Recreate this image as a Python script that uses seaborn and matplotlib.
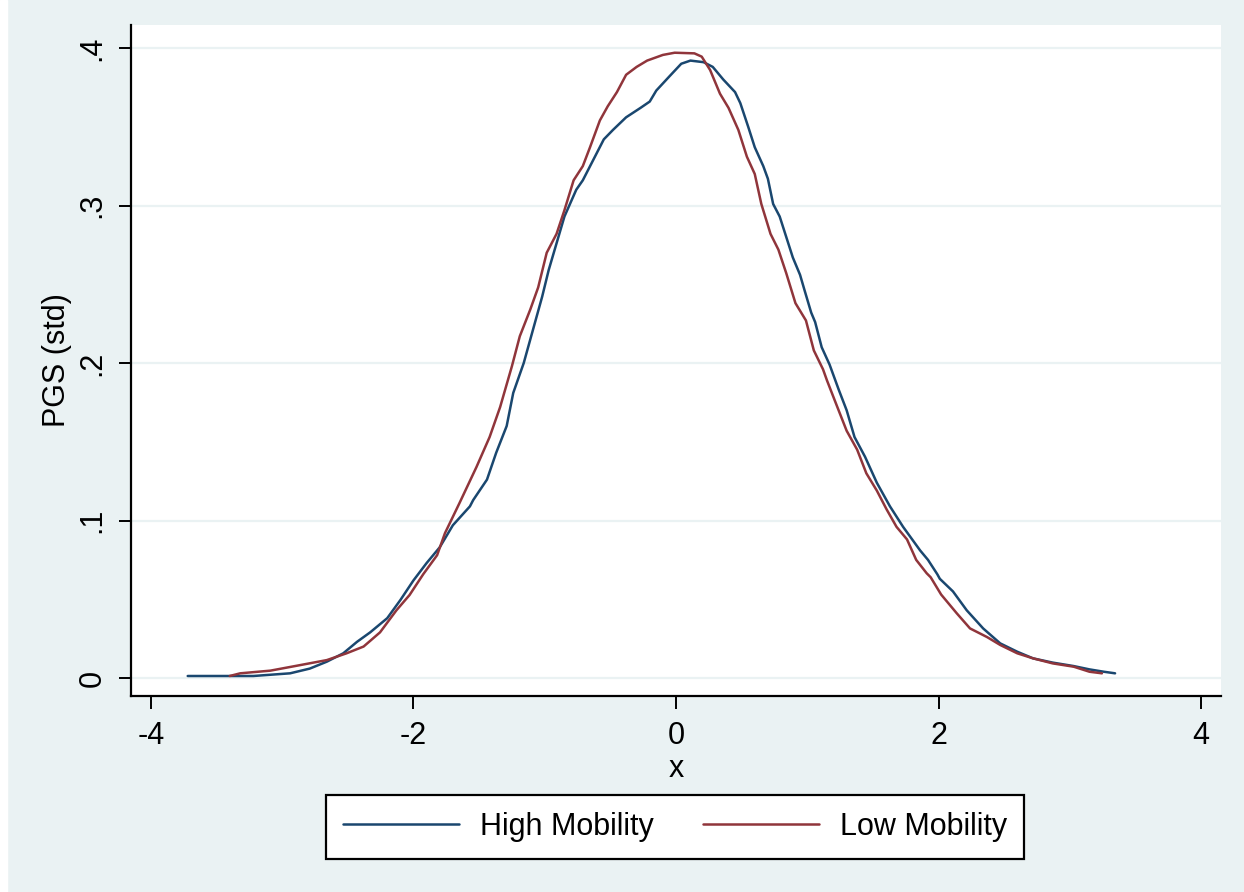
import numpy as np
import pandas as pd
import seaborn as sns
import matplotlib.pyplot as plt
from matplotlib.patches import Rectangle

# density curves
high_x = [-3.72, -3.22, -2.94, -2.79, -2.66, -2.535, -2.43, -2.33, -2.20, -2.10,
          -2.00, -1.90, -1.80, -1.70, -1.57, -1.545, -1.44, -1.37, -1.29, -1.24,
          -1.16, -1.09, -1.02, -0.97, -0.91, -0.85, -0.76, -0.71, -0.63, -0.55,
          -0.48, -0.38, -0.27, -0.20, -0.15, -0.05, 0.04, 0.11, 0.21, 0.28,
          0.36, 0.45, 0.49, 0.55, 0.60, 0.665, 0.70, 0.74, 0.79, 0.84,
          0.89, 0.945, 0.98, 1.03, 1.06, 1.11, 1.17, 1.24, 1.30, 1.36,
          1.44, 1.53, 1.63, 1.73, 1.86, 1.92, 1.99, 2.01, 2.11, 2.215,
          2.34, 2.47, 2.60, 2.72, 2.87, 3.03, 3.15, 3.26, 3.345]
high_y = [0.0013, 0.0013, 0.003, 0.006, 0.0104, 0.0157, 0.023, 0.029, 0.038, 0.0495,
          0.062, 0.073, 0.083, 0.097, 0.109, 0.113, 0.126, 0.143, 0.160, 0.181,
          0.200, 0.221, 0.242, 0.259, 0.276, 0.293, 0.310, 0.316, 0.329, 0.342,
          0.348, 0.356, 0.362, 0.366, 0.373, 0.382, 0.390, 0.392, 0.391, 0.388,
          0.380, 0.372, 0.365, 0.350, 0.337, 0.325, 0.317, 0.301, 0.293, 0.280,
          0.267, 0.256, 0.246, 0.232, 0.226, 0.210, 0.199, 0.183, 0.170, 0.153,
          0.1405, 0.124, 0.109, 0.096, 0.081, 0.075, 0.066, 0.063, 0.055, 0.043,
          0.0315, 0.022, 0.0167, 0.0125, 0.0098, 0.0076, 0.0055, 0.004, 0.003]

low_x = [-3.40, -3.32, -3.09, -2.89, -2.66, -2.51, -2.38, -2.255, -2.13, -2.03,
         -1.925, -1.82, -1.76, -1.65, -1.52, -1.42, -1.34, -1.25, -1.19, -1.11,
         -1.05, -0.985, -0.91, -0.85, -0.78, -0.71, -0.655, -0.58, -0.52, -0.45,
         -0.38, -0.30, -0.22, -0.10, -0.01, 0.14, 0.196, 0.26, 0.335, 0.40,
         0.475, 0.54, 0.60, 0.65, 0.72, 0.78, 0.84, 0.91, 0.99, 1.05,
         1.12, 1.15, 1.22, 1.30, 1.38, 1.45, 1.53, 1.605, 1.68, 1.76,
         1.83, 1.91, 1.94, 2.02, 2.14, 2.24, 2.37, 2.47, 2.60, 2.72,
         2.87, 3.03, 3.15, 3.245]
low_y = [0.0013, 0.003, 0.0047, 0.0078, 0.0114, 0.0157, 0.020, 0.029, 0.043, 0.0527,
         0.066, 0.078, 0.092, 0.111, 0.134, 0.153, 0.172, 0.198, 0.217, 0.234,
         0.248, 0.270, 0.282, 0.297, 0.316, 0.325, 0.337, 0.354, 0.363, 0.372,
         0.383, 0.388, 0.392, 0.3956, 0.397, 0.3966, 0.3945, 0.386, 0.371, 0.362,
         0.348, 0.331, 0.320, 0.301, 0.282, 0.272, 0.257, 0.238, 0.227, 0.208,
         0.196, 0.189, 0.174, 0.157, 0.145, 0.130, 0.119, 0.107, 0.096, 0.088,
         0.075, 0.0665, 0.064, 0.053, 0.041, 0.0315, 0.026, 0.021, 0.0157, 0.0125,
         0.0093, 0.0072, 0.004, 0.003]

groups = ["High Mobility", "Low Mobility"]
x_ticks = [-4, -2, 0, 2, 4]
y_ticks = [0, 0.1, 0.2, 0.3, 0.4]
y_labels = ["0", ".1", ".2", ".3", ".4"]

df = pd.concat([
    pd.DataFrame({"x": high_x, "y": high_y, "group": groups[0]}),
    pd.DataFrame({"x": low_x, "y": low_y, "group": groups[1]}),
])

bg = "#EAF2F3"
colors = ["#1A476F", "#90353B"]
sns.set_style("white")
plt.rcParams["font.family"] = ["Liberation Sans", "DejaVu Sans"]
plt.rcParams["text.color"] = "black"
plt.rcParams["axes.labelcolor"] = "black"
plt.rcParams["xtick.color"] = "black"
plt.rcParams["ytick.color"] = "black"

fig = plt.figure(figsize=(12.44, 8.92), dpi=100, facecolor=bg)
fig.patches.append(Rectangle((0, 0), 7 / 1244, 1, transform=fig.transFigure,
                             color="white", zorder=0))
ax = fig.add_axes([131 / 1244, 1 - 696 / 892, (1221 - 131) / 1244, (696 - 25) / 892])
ax.set_facecolor("white")

sns.lineplot(data=df, x="x", y="y", hue="group", palette=colors,
             estimator=None, sort=True, linewidth=1.8, ax=ax, legend=False)

ax.set_xlim(-4.152, 4.152)
ax.set_ylim(-0.0114, 0.4146)
ax.set_xticks(x_ticks)
ax.set_xticklabels([str(t) for t in x_ticks])
ax.set_yticks(y_ticks)
ax.set_yticklabels(y_labels, rotation=90, va="center")
ax.yaxis.grid(True, color=bg, linewidth=1.6)
ax.xaxis.grid(False)
ax.tick_params(axis="both", labelsize=22, length=9, width=1.4, colors="black",
               left=True, bottom=True)
ax.tick_params(axis="x", pad=9)
ax.tick_params(axis="y", pad=8)
for s in ["top", "right"]:
    ax.spines[s].set_visible(False)
for s in ["left", "bottom"]:
    ax.spines[s].set_color("black")
    ax.spines[s].set_linewidth(1.6)

ax.set_xlabel("x", fontsize=22, labelpad=2)
ax.set_ylabel("PGS (std)", fontsize=22, labelpad=4)

handles = [plt.Line2D([], [], color=c, linewidth=1.8) for c in colors]
leg = fig.legend(handles, groups, loc="center", ncol=2,
                 bbox_to_anchor=(675 / 1244, 1 - 827 / 892), fontsize=22,
                 frameon=True, fancybox=False, framealpha=1, facecolor="white",
                 edgecolor="black", handlelength=3.8, columnspacing=1.6,
                 handletextpad=0.7, borderpad=0.55, borderaxespad=0)
leg.get_frame().set_linewidth(1.6)

fig.savefig("out.png", dpi=100, facecolor=bg)
